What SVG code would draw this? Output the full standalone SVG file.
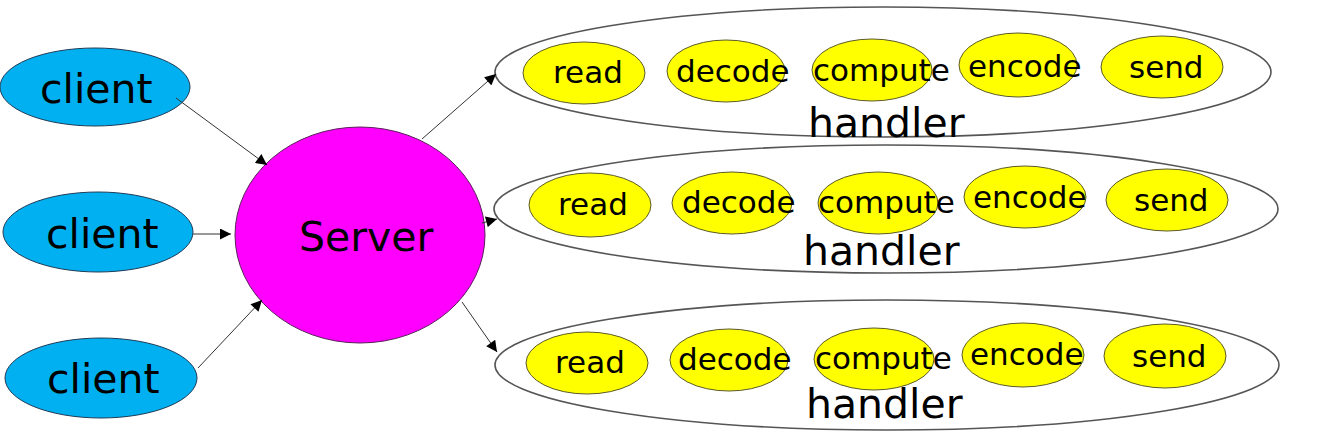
<svg xmlns="http://www.w3.org/2000/svg" width="1326" height="447" viewBox="0 0 1326 447">
<defs>
<style>
.client{fill:#00b0f0;stroke:#1f3b57;stroke-width:1}
.server{fill:#ff00ff;stroke:#5a1f5a;stroke-width:1}
.handler{fill:none;stroke:#555;stroke-width:1.6}
.step{fill:#ffff00;stroke:#5a5a2a;stroke-width:1}
text{font-family:"DejaVu Sans","Liberation Sans",sans-serif;fill:#000}
.big{font-size:41px}
.small{font-size:31px}
.edge{stroke:#333;stroke-width:1;fill:none;marker-end:url(#ah)}
</style>
<marker id="ah" viewBox="0 0 10 10" refX="10" refY="5" markerWidth="15" markerHeight="11" markerUnits="userSpaceOnUse" orient="auto">
<path d="M0,0 L10,5 L0,10 z" fill="#000"/>
</marker>
</defs>
<rect width="1326" height="447" fill="#fff"/>
<g id="client1"><ellipse class="client" cx="95" cy="87" rx="95" ry="39"/><text class="big" x="40" y="103">client</text></g>
<g id="client2"><ellipse class="client" cx="98" cy="232" rx="95" ry="40"/><text class="big" x="46" y="248">client</text></g>
<g id="client3"><ellipse class="client" cx="101" cy="378" rx="96" ry="40"/><text class="big" x="47" y="393">client</text></g>
<g id="server"><ellipse class="server" cx="360" cy="235" rx="125" ry="108"/><text class="big" x="299" y="251">Server</text></g>

<g id="handler1">
<ellipse class="handler" cx="883" cy="72" rx="388" ry="65"/>
<ellipse class="step" cx="584" cy="73" rx="61" ry="31"/><text class="small" x="553" y="83">read</text>
<ellipse class="step" cx="726" cy="71" rx="59" ry="31"/><text class="small" x="676" y="82">decode</text>
<ellipse class="step" cx="872" cy="70" rx="60" ry="31"/><text class="small" x="813" y="81">compute</text>
<ellipse class="step" cx="1018" cy="65" rx="59" ry="32"/><text class="small" x="968" y="77">encode</text>
<ellipse class="step" cx="1162" cy="67" rx="61" ry="31"/><text class="small" x="1129" y="78">send</text>
<text class="big" x="808" y="137">handler</text>
</g>

<g id="handler2">
<ellipse class="handler" cx="886" cy="209" rx="392" ry="64"/>
<ellipse class="step" cx="590" cy="205" rx="61" ry="32"/><text class="small" x="558" y="215">read</text>
<ellipse class="step" cx="732" cy="203" rx="60" ry="31"/><text class="small" x="682" y="213">decode</text>
<ellipse class="step" cx="878" cy="203" rx="60" ry="31"/><text class="small" x="818" y="213">compute</text>
<ellipse class="step" cx="1025" cy="197" rx="61" ry="31"/><text class="small" x="973" y="208">encode</text>
<ellipse class="step" cx="1167" cy="200" rx="61" ry="31"/><text class="small" x="1134" y="211">send</text>
<text class="big" x="803" y="265">handler</text>
</g>

<g id="handler3">
<ellipse class="handler" cx="887" cy="365" rx="392" ry="65"/>
<ellipse class="step" cx="587" cy="363" rx="61" ry="31"/><text class="small" x="555" y="373">read</text>
<ellipse class="step" cx="729" cy="360" rx="59" ry="31"/><text class="small" x="678" y="370">decode</text>
<ellipse class="step" cx="874" cy="359" rx="60" ry="31"/><text class="small" x="815" y="369">compute</text>
<ellipse class="step" cx="1023" cy="355" rx="61" ry="32"/><text class="small" x="970" y="365">encode</text>
<ellipse class="step" cx="1165" cy="356" rx="61" ry="32"/><text class="small" x="1132" y="367">send</text>
<text class="big" x="806" y="418">handler</text>
</g>

<g id="connectors">
<line class="edge" x1="176" y1="98" x2="267" y2="165"/>
<line class="edge" x1="193" y1="234" x2="231" y2="234"/>
<line class="edge" x1="198" y1="368" x2="262" y2="300"/>
<line class="edge" x1="422" y1="139" x2="496" y2="74"/>
<line class="edge" x1="482" y1="223" x2="497" y2="219"/>
<line class="edge" x1="462" y1="302" x2="497" y2="352"/>
</g>
</svg>
